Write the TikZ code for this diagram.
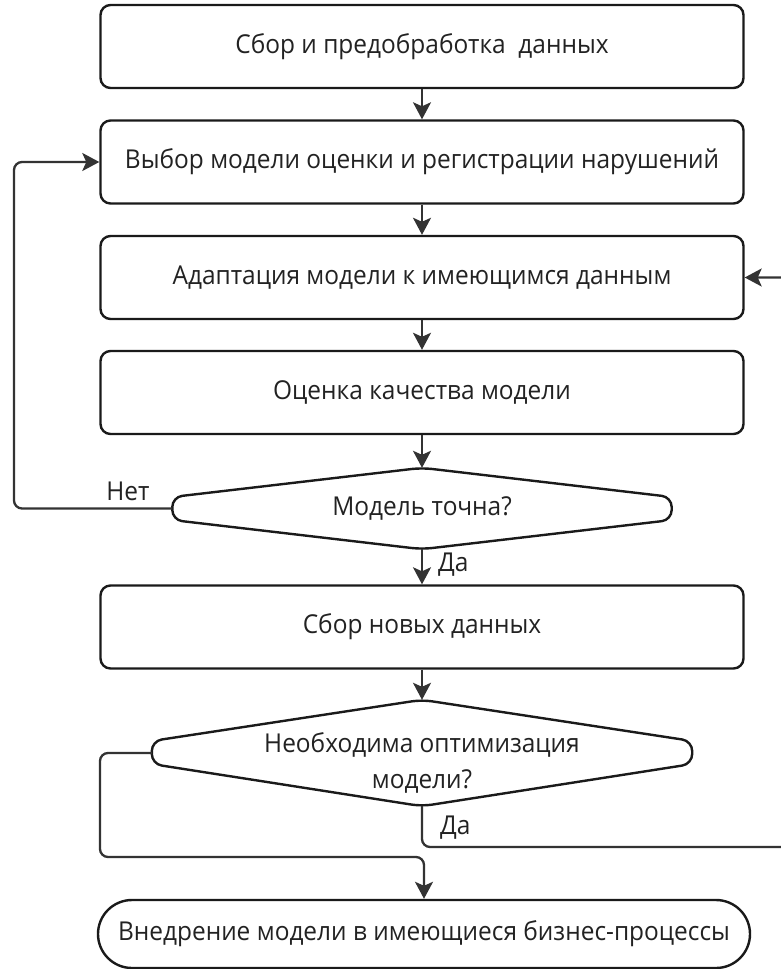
\documentclass[tikz,border=0pt]{standalone}
\usepackage{fontspec}
\setmainfont{Open Sans}[FakeStretch=0.94]
\usetikzlibrary{arrows.meta}
\definecolor{ink}{HTML}{1A1A1A}
\definecolor{wire}{HTML}{333333}
\definecolor{txt}{HTML}{222222}
\begin{document}
\begin{tikzpicture}[x=1pt,y=-1pt,
  lbl/.style={font=\fontsize{26}{36}\selectfont, text=txt, inner sep=0pt, align=center},
  stepbox/.style={lbl, draw=ink, line width=2.4pt, rounded corners=10pt,
    minimum width=643pt, minimum height=83pt},
  endbox/.style={lbl, draw=ink, line width=2.4pt, rounded corners=34pt,
    minimum width=652pt, minimum height=68pt},
  frame/.style={inner sep=0pt, draw=none},
  outline/.style={draw=ink, line width=2.4pt, rounded corners=10pt},
  flow/.style={draw=wire, line width=2.3pt, rounded corners=8pt,
    -{Stealth[length=17pt,width=18pt,inset=4pt]}},
]
\clip (0,0) rectangle (781,969);

% process boxes
\node[stepbox] (b1) at (422,46.5) {Сбор и предобработка\ \ данных};
\node[stepbox] (b2) at (422,162) {Выбор модели оценки и регистрации нарушений};
\node[stepbox] (b3) at (422,277.5) {Адаптация модели к имеющимся данным};
\node[stepbox] (b4) at (422,392.5) {Оценка качества модели};
\node[stepbox] (b5) at (422,627) {Сбор новых данных};
\node[endbox] (b6) at (424,934) {Внедрение модели в имеющиеся бизнес-процессы};

% decision 1
\node[frame, minimum width=499pt, minimum height=81pt] (d1) at (422,508.5) {};
\draw[outline] (d1.north) -- (d1.east |- 0,497) -- (d1.east |- 0,520)
  -- (d1.south) -- (d1.west |- 0,520) -- (d1.west |- 0,497) -- cycle;
\node[lbl] (d1t) at (d1.center) {Модель точна?};

% decision 2
\node[frame, minimum width=540pt, minimum height=106pt] (d2) at (422,753) {};
\draw[outline] (d2.north) -- (d2.east |- 0,741) -- (d2.east |- 0,764)
  -- (d2.south) -- (d2.west |- 0,764) -- (d2.west |- 0,741) -- cycle;
\node[lbl] (d2t) at (422,763) {Необходима оптимизация\\модели?};

% main flow
\draw[flow] (b1) -- (b2);
\draw[flow] (b2) -- (b3);
\draw[flow] (b3) -- (b4);
\draw[flow] (b4.south) -- (d1.north);
\draw[flow] (d1.south) -- (b5.north);
\draw[flow] (b5.south) -- (d2.north);

% return to model choice
\coordinate (lx) at (14,0);
\draw[flow] (d1.west) -- (lx |- d1.west) -- (lx |- b2.west) -- (b2.west);
\node[lbl] (no1) at (128,491) {Нет};
\node[lbl, anchor=west] (yes1) at (438,565) {Да};

% no optimisation: go to deployment
\coordinate (ly) at (0,857);
\coordinate (lx2) at (100,0);
\draw[flow] (d2.west) -- (lx2 |- d2.west) -- (lx2 |- ly) -- (b6.north |- ly) -- (b6.north);

% optimisation needed: back to adaptation
\coordinate (ry) at (0,847);
\coordinate (rx) at (800,0);
\draw[flow] (d2.south) -- (d2.south |- ry) -- (rx |- ry) -- (rx |- b3.east) -- (b3.east);
\node[lbl, anchor=west] (yes2) at (440,828) {Да};
\end{tikzpicture}
\end{document}
